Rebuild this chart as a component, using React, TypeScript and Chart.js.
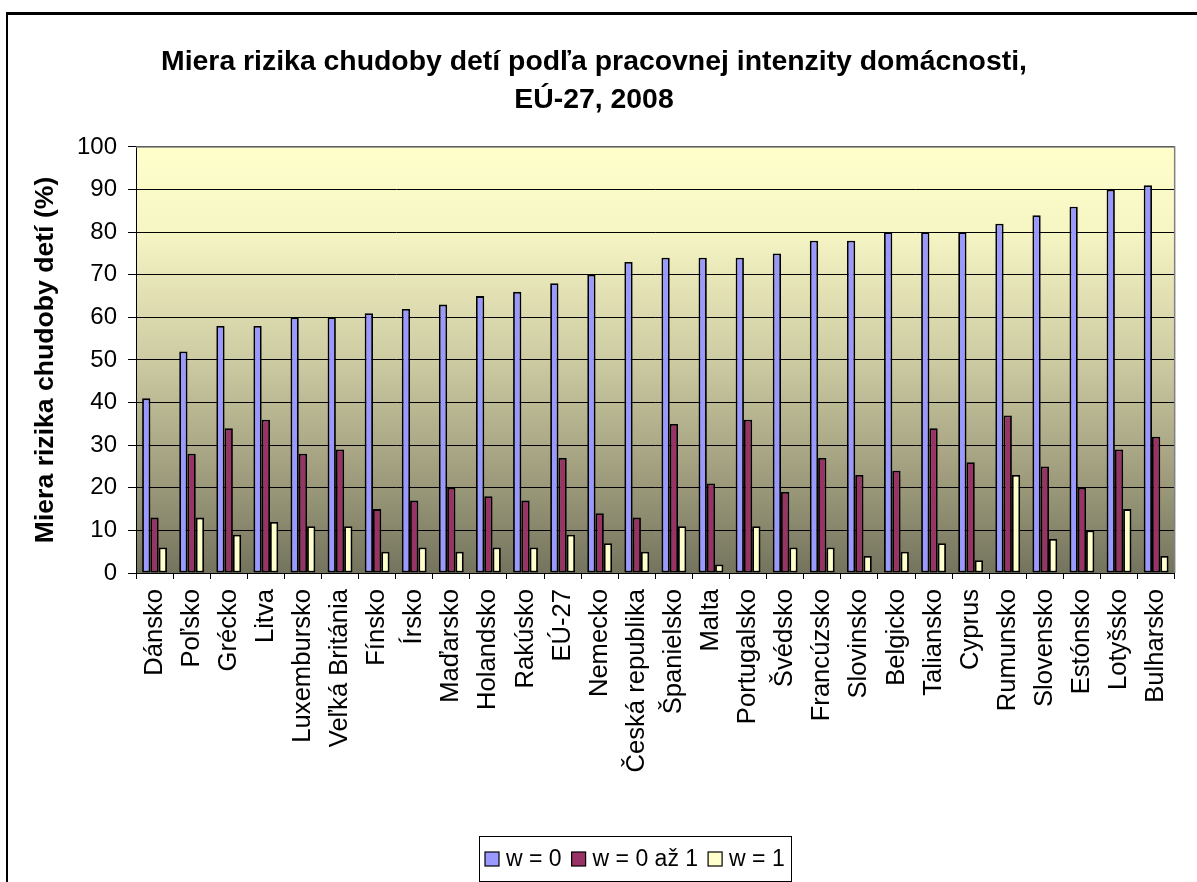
import React, { useEffect, useRef } from 'react';
import { Chart, registerables } from 'chart.js';

Chart.register(...registerables);

const FONT = '"Liberation Sans", Arial, Helvetica, sans-serif';

const categories = [
  'Dánsko', 'Poľsko', 'Grécko', 'Litva', 'Luxembursko', 'Veľká Británia', 'Fínsko', 'Írsko',
  'Maďarsko', 'Holandsko', 'Rakúsko', 'EÚ-27', 'Nemecko', 'Česká republika', 'Španielsko',
  'Malta', 'Portugalsko', 'Švédsko', 'Francúzsko', 'Slovinsko', 'Belgicko', 'Taliansko',
  'Cyprus', 'Rumunsko', 'Slovensko', 'Estónsko', 'Lotyšsko', 'Bulharsko',
];

const seriesW0 = [41, 52, 58, 58, 60, 60, 61, 62, 63, 65, 66, 68, 70, 73, 74, 74, 74, 75, 78, 78, 80, 80, 80, 82, 84, 86, 90, 91];
const seriesW01 = [13, 28, 34, 36, 28, 29, 15, 17, 20, 18, 17, 27, 14, 13, 35, 21, 36, 19, 27, 23, 24, 34, 26, 37, 25, 20, 29, 32];
const seriesW1 = [6, 13, 9, 12, 11, 11, 5, 6, 5, 6, 6, 9, 7, 5, 11, 2, 11, 6, 6, 4, 5, 7, 3, 23, 8, 10, 15, 4];

const seriesLabels = ['w = 0', 'w = 0 až 1', 'w = 1'];
const seriesColors = ['#9999FF', '#993366', '#FFFFCC'];

const titleLines = ['Miera rizika chudoby detí podľa pracovnej intenzity domácnosti,', 'EÚ-27, 2008'];
const yAxisTitle = 'Miera rizika chudoby detí (%)';
const yMin = 0;
const yMax = 100;
const yStep = 10;

const backgroundPlugin = {
  id: 'backgroundPlugin',
  beforeDraw(chart: any) {
    const { ctx, chartArea, width, height } = chart;
    ctx.save();
    ctx.fillStyle = '#ffffff';
    ctx.fillRect(0, 0, width, height);
    // outer frame (left and top edges visible)
    ctx.fillStyle = '#000000';
    ctx.fillRect(6, 12, 2, height - 12);
    ctx.fillRect(6, 12, width - 6, 3);
    // plot area gradient
    const g = ctx.createLinearGradient(0, chartArea.top, 0, chartArea.bottom);
    g.addColorStop(0, '#FFFFCC');
    g.addColorStop(0.2, '#F6F5C4');
    g.addColorStop(0.5, '#CDCBA2');
    g.addColorStop(0.8, '#9A9879');
    g.addColorStop(1, '#74745E');
    ctx.fillStyle = g;
    ctx.fillRect(chartArea.left, chartArea.top, chartArea.right - chartArea.left, chartArea.bottom - chartArea.top);
    ctx.restore();
  },
  afterDraw(chart: any) {
    const { ctx, chartArea } = chart;
    ctx.save();
    ctx.strokeStyle = '#808080';
    ctx.lineWidth = 1.5;
    ctx.beginPath();
    ctx.moveTo(chartArea.left, chartArea.top);
    ctx.lineTo(chartArea.right, chartArea.top);
    ctx.lineTo(chartArea.right, chartArea.bottom);
    ctx.stroke();
    ctx.restore();
  },
};

const boxedLegendPlugin = {
  id: 'boxedLegendPlugin',
  afterDraw(chart: any) {
    const { ctx } = chart;
    ctx.save();
    ctx.font = `23px ${FONT}`;
    const sq = 14;
    const gapText = 7;
    const gapItem = 10;
    const padX = 6;
    const items = chart.data.datasets.map((d: any) => ({
      label: d.label as string,
      color: d.backgroundColor as string,
      w: ctx.measureText(d.label).width,
    }));
    const inner = items.reduce((a: number, it: any) => a + sq + gapText + it.w, 0) + gapItem * (items.length - 1);
    const boxW = Math.round(inner + 2 * padX);
    const cx = 635;
    const left = Math.round(cx - boxW / 2);
    const top = 836;
    const h = 45;
    ctx.fillStyle = '#ffffff';
    ctx.fillRect(left, top, boxW, h);
    ctx.strokeStyle = '#000000';
    ctx.lineWidth = 1;
    ctx.strokeRect(left + 0.5, top + 0.5, boxW, h);
    const cy = 859;
    let x = left + padX;
    ctx.textBaseline = 'middle';
    ctx.textAlign = 'left';
    items.forEach((it: any) => {
      ctx.fillStyle = it.color;
      ctx.fillRect(x, cy - 7, sq, sq);
      ctx.strokeStyle = '#000000';
      ctx.lineWidth = 1.2;
      ctx.strokeRect(x, cy - 7, sq, sq);
      ctx.fillStyle = '#000000';
      ctx.fillText(it.label, x + sq + gapText, cy + 1);
      x += sq + gapText + it.w + gapItem;
    });
    ctx.restore();
  },
};

export default function App() {
  const ref = useRef<HTMLCanvasElement>(null);

  useEffect(() => {
    if (!ref.current) return;
    const seriesValues = [seriesW0, seriesW01, seriesW1];
    const chart = new Chart(ref.current, {
      type: 'bar',
      data: {
        labels: categories,
        datasets: seriesValues.map((vals, i) => ({
          label: seriesLabels[i],
          data: vals,
          backgroundColor: seriesColors[i],
          borderColor: '#000000',
          borderWidth: 1.8,
          borderSkipped: false,
          categoryPercentage: 0.67,
          barPercentage: 1.0,
        })),
      },
      options: {
        responsive: false,
        animation: false,
        devicePixelRatio: 1,
        layout: { padding: { left: 0, right: 9, top: 0, bottom: 0 } },
        plugins: {
          legend: { display: false },
          tooltip: { enabled: false },
          title: {
            display: true,
            text: titleLines,
            color: '#000000',
            font: { family: FONT, size: 28.4, weight: 'bold', lineHeight: 1.338 },
            padding: { top: 43, bottom: 28 },
          },
        },
        scales: {
          x: {
            grid: { drawOnChartArea: false, drawTicks: true, tickLength: 6, color: '#000000', offset: true },
            border: { color: '#000000', width: 1 },
            ticks: {
              autoSkip: false,
              minRotation: 90,
              maxRotation: 90,
              color: '#000000',
              padding: 10,
              font: { family: FONT, size: 25.6 },
            },
            afterFit: (s: any) => { s.height = 309; },
          },
          y: {
            min: yMin,
            max: yMax,
            ticks: {
              stepSize: yStep,
              color: '#000000',
              padding: 11,
              font: { family: FONT, size: 24 },
            },
            grid: { color: '#000000', tickLength: 8, lineWidth: 1 },
            border: { color: '#000000', width: 1 },
            title: {
              display: true,
              text: yAxisTitle,
              color: '#000000',
              font: { family: FONT, size: 26.6, weight: 'bold' },
              padding: { top: 30, bottom: 0 },
            },
            afterFit: (s: any) => { s.width = 136; },
          },
        },
      },
      plugins: [backgroundPlugin, boxedLegendPlugin],
    } as any);
    return () => chart.destroy();
  }, []);

  return (
    <canvas
      ref={ref}
      width={1197}
      height={882}
      style={{ position: 'fixed', left: 0, top: 0, width: 1197, height: 882, display: 'block' }}
    />
  );
}
